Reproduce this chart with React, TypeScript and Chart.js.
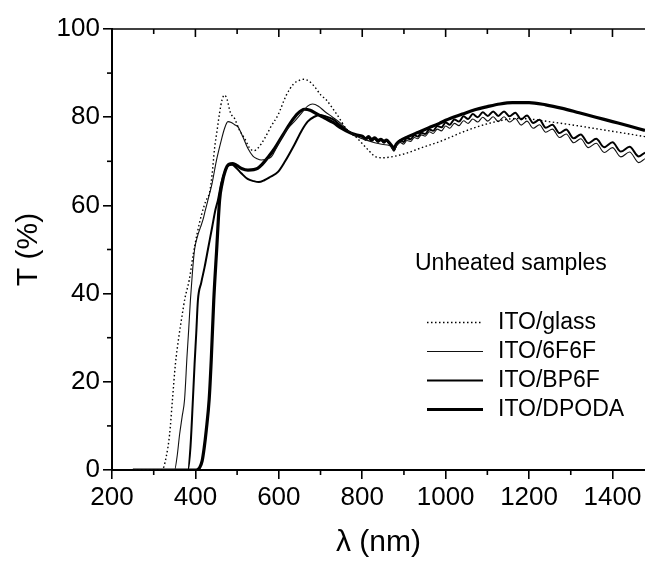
import React, { useEffect, useRef } from 'react';
import { Chart, registerables } from 'chart.js';

Chart.register(...registerables);

// ---------- data (wavelength in nm, transmittance in %) ----------
const glassX = [250, 320, 330, 338, 345, 352, 360, 368, 375, 385, 395, 405, 415, 425, 434, 440, 446, 452, 458, 464, 470, 476, 484, 494, 506, 518, 530, 540, 550, 566, 582, 598, 618, 635, 650, 660, 672, 685, 701, 713, 740, 765, 785, 810, 833, 850, 870, 885, 905, 940, 984, 1010, 1040, 1072, 1100, 1130, 1167, 1200, 1247, 1300, 1367, 1420, 1478];
const glassT = [0, 0, 3, 8, 16, 24, 30, 35, 39, 43, 49, 54, 58, 61, 63, 67, 73, 77, 81, 84, 85, 84, 81, 79.7, 77, 75.2, 73, 72.4, 73, 75.2, 78, 80.5, 85, 87.5, 88.4, 88.6, 88.2, 87, 85, 84, 80.5, 77, 75.5, 73, 71, 70.8, 71, 71.3, 71.8, 73, 74.4, 75.4, 76.6, 77.7, 78.5, 79.2, 79.7, 79.6, 79, 78.3, 77.3, 76.5, 75.6];

const f6X = [250, 350, 356, 362, 368, 374, 380, 384, 388, 393, 398, 405, 412, 418, 424, 430, 440, 450, 460, 470, 478, 486, 494, 502, 514, 526, 538, 548, 558, 570, 582, 594, 606, 620, 637, 655, 669, 681, 695, 710, 729, 750, 769, 790, 810, 830, 850, 865, 872, 876, 882, 886,
  891, 899, 907, 916, 925, 933, 942, 951, 961, 970, 980, 990, 1000, 1010, 1021, 1032, 1043, 1054, 1065, 1077, 1089, 1101, 1114, 1126, 1140, 1153, 1167, 1181, 1195, 1210, 1225, 1240, 1256, 1273, 1289, 1307, 1324, 1342, 1361, 1380, 1400, 1420, 1441, 1463, 1478];
const f6T = [0, 0, 3, 8, 12, 16, 26, 32, 38.5, 45, 50, 53, 55, 56.7, 59, 61.2, 65, 70, 74, 77.5, 79, 78.8, 78.3, 77.8, 75.5, 72.9, 71.2, 70.6, 70.3, 70.5, 71, 73, 75.3, 77.3, 79, 81, 82.5, 83, 82.5, 81.3, 80, 78.5, 76.7, 75.5, 74.8, 74.2, 73.8, 73.6, 73, 72.4, 73.5, 73.9,
  74.3, 73.9, 74.7, 74.5, 75.4, 75.1, 76.0, 75.7, 76.7, 76.3, 77.3, 76.9, 78.0, 77.5, 78.6, 78.1, 79.2, 78.6, 79.6, 78.9, 80.0, 79.1, 80.1, 79.0, 80.1, 78.9, 79.7, 78.2, 79.1, 77.5, 78.3, 76.6, 77.3, 75.4, 76.2, 74.2, 75.1, 73.1, 74.1, 72.0, 73.1, 71.0, 72.1, 69.7, 70.6];

const bpX = [250, 382, 388, 394, 398, 402, 406, 414, 422, 430, 440, 448, 454, 462, 470, 478, 488, 498, 510, 525, 540, 552, 565, 580, 598, 615, 637, 655, 669, 685, 698, 712, 730, 750, 770, 785, 800, 808, 815, 822, 830, 838, 845, 852, 858, 865, 871, 876, 881, 886,
  891, 899, 907, 916, 925, 933, 942, 951, 961, 970, 980, 990, 1000, 1010, 1021, 1032, 1043, 1054, 1065, 1077, 1089, 1101, 1114, 1126, 1140, 1153, 1167, 1181, 1195, 1210, 1225, 1240, 1256, 1273, 1289, 1307, 1324, 1342, 1361, 1380, 1400, 1420, 1441, 1463, 1478];
const bpT = [0, 0, 5, 16, 24, 31, 38.5, 42.5, 46, 50, 55, 59, 61.2, 65, 67.5, 69, 69.2, 68.5, 67.3, 66, 65.5, 65.3, 65.7, 66.5, 67.6, 70, 73.7, 77, 79, 80.1, 80.5, 80.2, 79.5, 78, 76.6, 75.8, 75.6, 74.9, 75.4, 74.6, 75.1, 74.4, 74.9, 74.2, 74.7, 74.0, 73.2, 72.4, 73.6, 74.3,
  74.8, 74.4, 75.2, 75.0, 75.9, 75.6, 76.5, 76.2, 77.2, 76.9, 78.0, 77.7, 78.8, 78.3, 79.5, 79.0, 80.2, 79.6, 80.7, 80.0, 81.1, 80.3, 81.3, 80.3, 81.3, 80.2, 81.0, 79.5, 80.4, 78.7, 79.4, 77.6, 78.3, 76.4, 77.2, 75.2, 76.1, 74.1, 75.1, 73.2, 74.3, 72.2, 73.3, 71.1, 72.0];

const dpX = [250, 402, 410, 416, 421, 426, 433, 438, 444, 451, 458, 464, 472, 480, 490, 500, 512, 526, 540, 549, 560, 575, 590, 610, 630, 645, 661, 675, 690, 710, 730, 750, 770, 785, 800, 808, 815, 822, 830, 838, 845, 852, 858, 865, 871, 876, 881, 888, 910, 935, 960, 985, 1000, 1040, 1070, 1100, 1130, 1160, 1200, 1240, 1280, 1320, 1360, 1400, 1440, 1478];
const dpT = [0, 0, 0.5, 2, 5, 9, 16, 25, 38.5, 50, 61.2, 65, 68, 69.3, 69.5, 69, 68.3, 68, 68.1, 68.4, 69.3, 71, 72.9, 76, 79, 80.8, 81.8, 81.6, 80.8, 79.8, 78.8, 77.5, 76.5, 76, 75.7, 75.1, 75.6, 74.9, 75.3, 74.7, 75.0, 74.5, 74.8, 74.2, 73.5, 72.8, 73.8, 74.5, 75.6, 76.6, 77.6, 78.6, 79.3, 80.7, 81.7, 82.4, 83.0, 83.3, 83.3, 82.8, 82.0, 81.0, 80.0, 79.0, 78.0, 77.0];

const seriesNames = ['ITO/glass', 'ITO/6F6F', 'ITO/BP6F', 'ITO/DPODA'];
const xTickValues = [200, 400, 600, 800, 1000, 1200, 1400];
const annotationText = 'Unheated samples';
const xTitle = 'λ (nm)';
const yTitle = 'T (%)';

// ---------- layout / style constants ----------
const W = 645;
const H = 562;
const AREA_LEFT = 112;
const AREA_TOP = 29;
const AREA_BOTTOM = 470;
const X_MIN = 200;
const X_MAX = 1478;
const FONT = "'Liberation Sans', Arial, Helvetica, sans-serif";
const LEGEND = { lineX0: 427, lineX1: 483, textX: 498, y0: 322, dy: 29, noteX: 415, noteY: 264 };

const styles = [
  { color: '#000', width: 1.4, dash: [1.5, 2.5] },
  { color: '#111', width: 1.1, dash: [] as number[] },
  { color: '#000', width: 2, dash: [] as number[] },
  { color: '#000', width: 3.2, dash: [] as number[] },
];

const toPts = (xs: number[], ys: number[]) => xs.map((x, i) => ({ x, y: ys[i] }));

const decorPlugin = {
  id: 'decor',
  afterDraw(chart: any) {
    const { ctx, chartArea } = chart;
    const xs = chart.scales.x;
    const ys = chart.scales.y;
    ctx.save();
    ctx.strokeStyle = '#000';
    ctx.lineWidth = 1.6;
    ctx.beginPath();
    ctx.moveTo(chartArea.left, chartArea.top);
    ctx.lineTo(chartArea.right + 2, chartArea.top);
    ctx.stroke();
    for (let v = X_MIN; v <= X_MAX; v += 100) {
      const px = xs.getPixelForValue(v);
      const major = v % 200 === 0;
      if (!major) {
        ctx.beginPath();
        ctx.moveTo(px, chartArea.bottom);
        ctx.lineTo(px, chartArea.bottom + 5);
        ctx.stroke();
      }
      ctx.beginPath();
      ctx.moveTo(px, chartArea.top);
      ctx.lineTo(px, chartArea.top + (major ? 8 : 5));
      ctx.stroke();
    }
    for (let v = 10; v < 100; v += 20) {
      const py = ys.getPixelForValue(v);
      ctx.beginPath();
      ctx.moveTo(chartArea.left, py);
      ctx.lineTo(chartArea.left - 5, py);
      ctx.stroke();
    }
    ctx.fillStyle = '#000';
    ctx.font = `23px ${FONT}`;
    ctx.textBaseline = 'middle';
    ctx.textAlign = 'left';
    ctx.fillText(annotationText, LEGEND.noteX, LEGEND.noteY);
    chart.data.datasets.forEach((ds: any, i: number) => {
      const y = Math.round(LEGEND.y0 + i * LEGEND.dy) + 0.5;
      ctx.save();
      ctx.strokeStyle = ds.borderColor;
      ctx.lineWidth = ds.borderWidth;
      ctx.setLineDash(ds.borderDash || []);
      ctx.beginPath();
      ctx.moveTo(LEGEND.lineX0, y);
      ctx.lineTo(LEGEND.lineX1, y);
      ctx.stroke();
      ctx.restore();
      ctx.fillText(ds.label, LEGEND.textX, y);
    });
    ctx.restore();
  },
};

export default function App() {
  const canvasRef = useRef<HTMLCanvasElement | null>(null);

  useEffect(() => {
    const canvas = canvasRef.current;
    if (!canvas) return;
    const series = [toPts(glassX, glassT), toPts(f6X, f6T), toPts(bpX, bpT), toPts(dpX, dpT)];
    const chart = new Chart(canvas, {
      type: 'line',
      data: {
        datasets: series.map((pts, i) => ({
          label: seriesNames[i],
          data: pts,
          borderColor: styles[i].color,
          borderWidth: styles[i].width,
          borderDash: styles[i].dash,
          pointRadius: 0,
          fill: false,
          cubicInterpolationMode: 'monotone' as const,
        })),
      },
      options: {
        animation: false,
        responsive: false,
        maintainAspectRatio: false,
        layout: { padding: { top: AREA_TOP, left: 0, right: 0, bottom: 0 } },
        plugins: { legend: { display: false }, tooltip: { enabled: false } },
        scales: {
          x: {
            type: 'linear',
            min: X_MIN,
            max: X_MAX,
            afterFit: (s: any) => { s.height = H - AREA_BOTTOM; },
            afterBuildTicks: (s: any) => {
              s.ticks = xTickValues.map((v) => ({ value: v }));
            },
            border: { display: true, color: '#000', width: 2 },
            grid: { display: true, drawOnChartArea: false, drawTicks: true, tickLength: 9, color: '#000', lineWidth: 1.6 },
            ticks: {
              color: '#000',
              font: { family: FONT, size: 26 },
              padding: 3,
              maxRotation: 0,
              autoSkip: false,
              callback: (v: any) => String(v),
            },
            title: { display: true, text: xTitle, color: '#000', font: { family: FONT, size: 30 }, padding: { top: 0, bottom: 1 } },
          },
          y: {
            type: 'linear',
            min: 0,
            max: 100,
            afterFit: (s: any) => { s.width = AREA_LEFT; },
            border: { display: true, color: '#000', width: 2 },
            grid: { display: true, drawOnChartArea: false, drawTicks: true, tickLength: 9, color: '#000', lineWidth: 1.6 },
            ticks: {
              stepSize: 20,
              color: '#000',
              font: { family: FONT, size: 26 },
              padding: 3,
              callback: (v: any) => String(v),
            },
            title: { display: true, text: yTitle, color: '#000', font: { family: FONT, size: 30 }, padding: { top: 11, bottom: 0 } },
          },
        },
      },
      plugins: [decorPlugin],
    });
    return () => chart.destroy();
  }, []);

  return (
    <div style={{ position: 'absolute', left: 0, top: 0, width: W, height: H, background: '#fff' }}>
      <canvas ref={canvasRef} width={W} height={H} style={{ width: W, height: H, display: 'block' }} />
    </div>
  );
}
